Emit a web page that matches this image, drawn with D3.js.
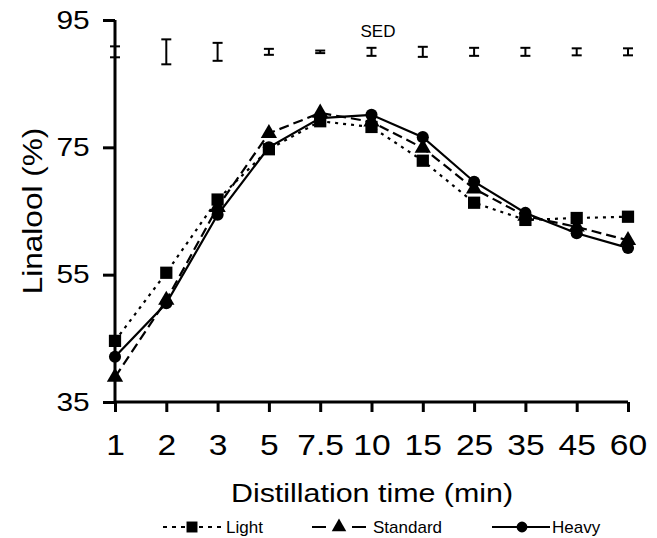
<!DOCTYPE html>
<html><head><meta charset="utf-8">
<script src="https://cdn.jsdelivr.net/npm/d3@7"></script>
<style>body{margin:0;background:#fff}svg{display:block}text{font-family:"Liberation Sans",Arial,sans-serif;fill:#000}</style>
</head><body>
<script>
const times = ["1","2","3","5","7.5","10","15","25","35","45","60"];
const light = [44.6,55.3,66.8,74.7,79.1,78.2,72.9,66.3,63.6,63.9,64.1];
const standard = [38.9,51.0,65.6,77.2,80.4,79.0,74.9,68.5,64.2,62.5,60.4];
const heavy = [42.1,50.5,64.4,75.0,79.6,80.1,76.6,69.6,64.7,61.5,59.2];
const sedCenter = 90;
const sed = [0.86,1.96,1.41,0.47,0.2,0.63,0.79,0.63,0.63,0.55,0.55];
const yTicks = [35,55,75,95];

const W=657,H=538;
const svg=d3.select("body").append("svg").attr("width",W).attr("height",H);
const x=d3.scalePoint().domain(times).range([115,628]);
const y=d3.scaleLinear().domain([35,95]).range([402,20]);

// axes
const yAxis=svg.append("g").attr("transform","translate(115,0)")
  .call(d3.axisLeft(y).tickValues(yTicks).tickSize(12).tickPadding(10).tickFormat(d3.format("d")));
yAxis.select(".domain").attr("d",`M0,${y(35)}V${y(95)}`).attr("stroke-width",3);
yAxis.selectAll(".tick line").attr("stroke-width",3);
yAxis.selectAll("text").style("font-size","26px").attr("transform","scale(1.15,1)");

const xAxis=svg.append("g").attr("transform","translate(0,402)")
  .call(d3.axisBottom(x).tickSize(10).tickPadding(22));
xAxis.select(".domain").attr("d",`M${x("1")},0H${x("60")}`).attr("stroke-width",3);
xAxis.selectAll(".tick line").attr("stroke-width",3);
xAxis.selectAll("text").style("font-size","30px").attr("transform","scale(1.12,1)");

svg.append("text").attr("transform","translate(372,502) scale(1.17,1)").attr("text-anchor","middle")
  .style("font-size","26px").text("Distillation time (min)");
svg.append("text").attr("transform","translate(42,211) rotate(-90) scale(1.17,1)").attr("text-anchor","middle")
  .style("font-size","27px").text("Linalool (%)");

// SED bars
svg.append("text").attr("x",378).attr("y",37).attr("text-anchor","middle").style("font-size","17px").text("SED");
const sg=svg.append("g").attr("stroke","#000").attr("stroke-width",2);
times.forEach((t,i)=>{
  const cx=x(t),y1=y(sedCenter+sed[i]),y2=y(sedCenter-sed[i]);
  sg.append("line").attr("x1",cx).attr("x2",cx).attr("y1",y1).attr("y2",y2);
  sg.append("line").attr("x1",cx-5).attr("x2",cx+5).attr("y1",y1).attr("y2",y1);
  sg.append("line").attr("x1",cx-5).attr("x2",cx+5).attr("y1",y2).attr("y2",y2);
});

const series=[
  {name:"Light",vals:light,dash:"3,5",sym:d3.symbolSquare,size:150},
  {name:"Standard",vals:standard,dash:"10,5",sym:d3.symbolTriangle,size:115},
  {name:"Heavy",vals:heavy,dash:null,sym:d3.symbolCircle,size:115}
];
const line=d3.line().x((d,i)=>x(times[i])).y(d=>y(d));
series.forEach(s=>{
  svg.append("path").datum(s.vals).attr("d",line).attr("fill","none").attr("stroke","#000")
    .attr("stroke-width",2.2).attr("stroke-dasharray",s.dash);
  svg.append("g").selectAll("path").data(s.vals).join("path")
    .attr("transform",(d,i)=>`translate(${x(times[i])},${y(d)})`)
    .attr("d",d3.symbol().type(s.sym).size(s.size)).attr("fill","#000");
});

// legend
const leg=[
  {s:series[0],x0:163,x1:222,mx:192,tx:226,dash:"4,5"},
  {s:series[1],x0:312,x1:366,mx:339,tx:373,dash:"14,26,14"},
  {s:series[2],x0:492,x1:550,mx:522,tx:552,dash:null}];
leg.forEach(l=>{
  const ly=527;
  svg.append("line").attr("x1",l.x0).attr("x2",l.x1).attr("y1",ly).attr("y2",ly).attr("stroke","#000")
    .attr("stroke-width",1.8).attr("stroke-dasharray",l.dash);
  svg.append("path").attr("transform",`translate(${l.mx},${ly})`)
    .attr("d",d3.symbol().type(l.s.sym).size(l.s.size*0.8)).attr("fill","#000");
  svg.append("text").attr("x",l.tx).attr("y",ly+6).style("font-size","17px").text(l.s.name);
});
</script>
</body></html>
